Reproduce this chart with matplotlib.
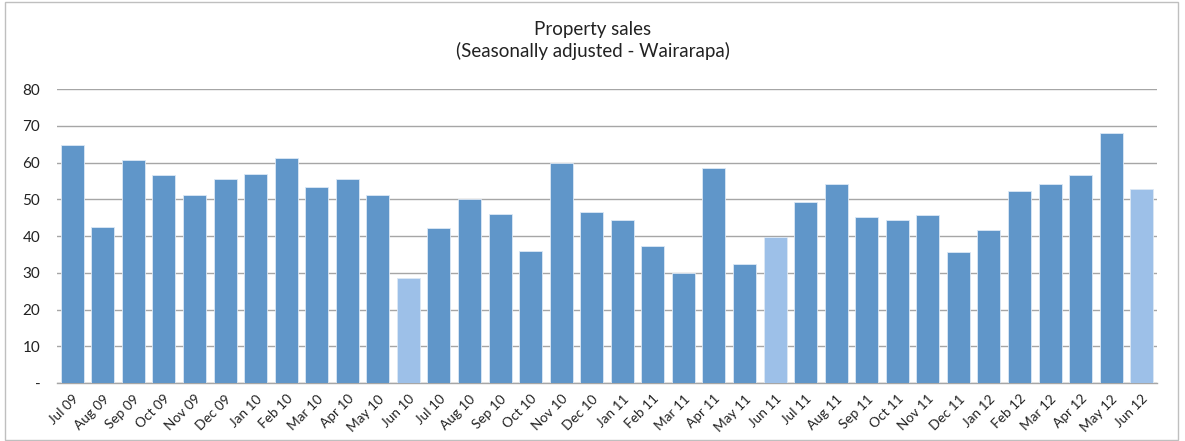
import matplotlib
matplotlib.use("Agg")
import matplotlib.pyplot as plt
from matplotlib.patches import Rectangle

months = ["Jul 09", "Aug 09", "Sep 09", "Oct 09", "Nov 09", "Dec 09", "Jan 10", "Feb 10",
          "Mar 10", "Apr 10", "May 10", "Jun 10", "Jul 10", "Aug 10", "Sep 10", "Oct 10",
          "Nov 10", "Dec 10", "Jan 11", "Feb 11", "Mar 11", "Apr 11", "May 11", "Jun 11",
          "Jul 11", "Aug 11", "Sep 11", "Oct 11", "Nov 11", "Dec 11", "Jan 12", "Feb 12",
          "Mar 12", "Apr 12", "May 12", "Jun 12"]
sales = [64.8, 42.4, 60.7, 56.7, 51.1, 55.5, 56.9, 61.2, 53.3, 55.4, 51.1, 28.5,
         42.1, 50.0, 46.0, 35.8, 59.9, 46.4, 44.3, 37.2, 30.0, 58.5, 32.5, 39.8,
         49.2, 54.1, 45.1, 44.4, 45.6, 35.6, 41.5, 52.2, 54.1, 56.7, 68.0, 52.8]
yticks = [0, 10, 20, 30, 40, 50, 60, 70, 80]
ytick_labels = ["-", "10", "20", "30", "40", "50", "60", "70", "80"]

dark = "#6096C9"
light = "#9DC0E8"
colors = [light if m.startswith("Jun") else dark for m in months]

plt.rcParams['font.family'] = ['Lato', 'DejaVu Sans']

W, H = 1185, 441
fig = plt.figure(figsize=(W / 100, H / 100), dpi=100)
ax = fig.add_axes([57 / W, 1 - 383 / H, (1157 - 57) / W, (383 - 89) / H])

x = list(range(len(months)))
ax.bar(x, sales, width=0.75, color=colors, edgecolor="#DCE8F5", linewidth=0.6, zorder=3)

ax.set_xlim(-0.5, len(months) - 0.5)
ax.set_ylim(0, 80)
ax.set_yticks(yticks)
ax.set_yticklabels(ytick_labels, fontsize=11, color="#222222")
ax.set_xticks(x)
ax.set_xticklabels(months, rotation=45, ha="right", va="top", rotation_mode="anchor",
                   fontsize=9.8, color="#222222")
ax.tick_params(axis="both", length=0)
ax.tick_params(axis="y", pad=12)
ax.tick_params(axis="x", pad=7)
ax.grid(axis="y", color="#A6A6A6", linewidth=1.0, zorder=0)
for s in ["top", "right", "left"]:
    ax.spines[s].set_visible(False)
ax.spines["bottom"].set_color("#A6A6A6")
ax.spines["bottom"].set_linewidth(1.0)

fig.text(0.5, 1 - 30 / H, "Property sales", ha="center", va="center", fontsize=13.5, color="#222222")
fig.text(0.5, 1 - 51 / H, "(Seasonally adjusted - Wairarapa)", ha="center", va="center",
         fontsize=13.5, color="#222222")

fig.add_artist(Rectangle((5 / W, 1 / H), (1178 - 5) / W, (H - 3) / H, transform=fig.transFigure,
                         fill=False, edgecolor="#BFBFBF", linewidth=1.0))

fig.savefig("out.png", dpi=100)
